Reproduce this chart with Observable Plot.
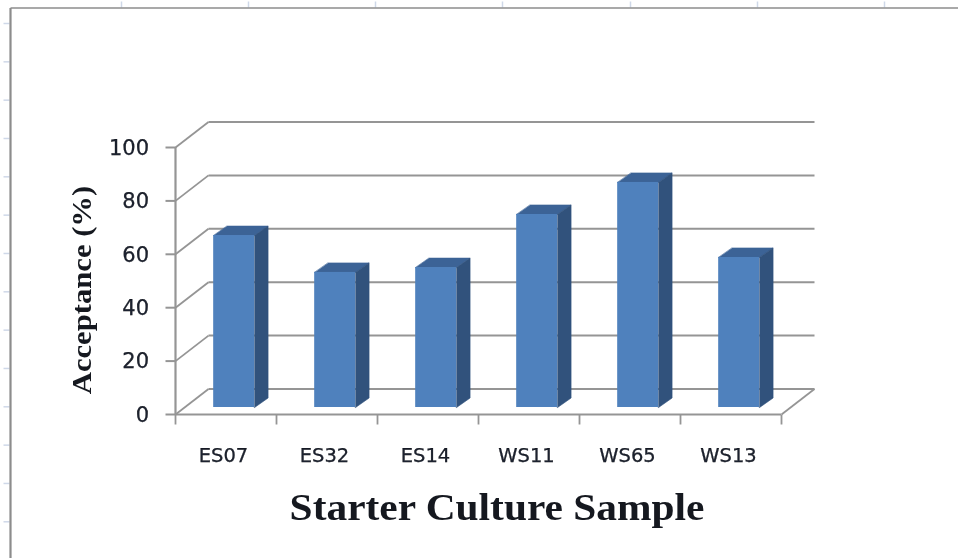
<!DOCTYPE html>
<html>
<head>
<meta charset="utf-8">
<script src="https://cdn.jsdelivr.net/npm/d3@7"></script>
<script src="https://cdn.jsdelivr.net/npm/@observablehq/plot@0.6"></script>
<style>
html,body{margin:0;padding:0;background:#fff;overflow:hidden}
svg{display:block}
g.title-y{transform-box:fill-box;transform-origin:center;transform:scaleY(1.135)}
g.title-x{transform-box:fill-box;transform-origin:center;transform:scaleX(1.09)}
.tick-text text{stroke:currentColor;stroke-width:0.25px}
</style>
</head>
<body>
<div id="chart"></div>
<script>
const samples = ["ES07", "ES32", "ES14", "WS11", "WS65", "WS13"];
const acceptance = [64.4, 50.6, 52.4, 72.3, 84.3, 56.2];
const yTicks = [0, 20, 40, 60, 80, 100];

const frontColor = "#4f81bd", sideColor = "#31527c", topColor = "#3c6396";
const gridColor = "#959595", inkColor = "#1c2230";

// Pixel placement of the plotting box: 6 category bands and a 0-100 axis.
const xRange = [175, 781], yRange = [414, 147];
const bandPx = (xRange[1] - xRange[0]) / samples.length;
const unitPx = (yRange[0] - yRange[1]) / 100;
const toX = px => (px - xRange[0]) / bandPx;
const toY = py => (yRange[0] - py) / unitPx;

// 3-D projection of the wall and the bars, in scale units.
const wallDX = 33 / bandPx, wallDY = 25.5 / unitPx;
const barLeft = 0.378, barWidth = 0.405;
const barBase = 7 / unitPx;
const barDX = 13.5 / bandPx, barDY = 9.5 / unitPx;

const rows = samples.map((name, i) => ({
  name, i, value: acceptance[i],
  x1: i + barLeft, x2: i + barLeft + barWidth,
  y1: barBase, y2: barBase + acceptance[i]
}));
const poly = (r, pts) => pts.map(([x, y]) => ({name: r.name, x, y}));
const sides = rows.flatMap(r => poly(r, [
  [r.x2, r.y1], [r.x2 + barDX, r.y1 + barDY], [r.x2 + barDX, r.y2 + barDY], [r.x2, r.y2]
]));
const tops = rows.flatMap(r => poly(r, [
  [r.x1, r.y2], [r.x2, r.y2], [r.x2 + barDX, r.y2 + barDY], [r.x1 + barDX, r.y2 + barDY]
]));

// Worksheet frame behind the chart
const sheetTop = [121, 248, 375, 502, 630, 757, 884];
const sheetLeft = d3.range(14).map(k => 23 + 38.33 * k);

const serif = "'Liberation Serif', serif";
const sans = "'DejaVu Sans', sans-serif";

const plot = Plot.plot({
  width: 958, height: 558, margin: 0,
  style: {background: "#fff", filter: "blur(0.55px)"},
  x: {type: "linear", domain: [0, samples.length], range: xRange, axis: null},
  y: {type: "linear", domain: [0, 100], range: yRange, axis: null},
  marks: [
    // worksheet frame
    Plot.link(sheetTop, {x1: d => toX(d), x2: d => toX(d), y1: toY(1), y2: toY(7), stroke: "#cfd8e8", strokeWidth: 1.5}),
    Plot.link(sheetLeft, {x1: toX(3), x2: toX(9), y1: d => toY(d), y2: d => toY(d), stroke: "#cfd8e8", strokeWidth: 1.5}),
    Plot.link([0], {x1: toX(10), x2: toX(958), y1: toY(7.5), y2: toY(7.5), stroke: "#8c8c8c", strokeWidth: 1.7}),
    Plot.link([0], {x1: toX(10), x2: toX(10), y1: toY(7.5), y2: toY(558), stroke: "#8c8c8c", strokeWidth: 2.2}),

    // walls and floor
    Plot.link(yTicks, {x1: wallDX, x2: samples.length + wallDX, y1: d => d + wallDY, y2: d => d + wallDY, stroke: gridColor, strokeWidth: 2}),
    Plot.link(yTicks, {x1: 0, x2: wallDX, y1: d => d, y2: d => d + wallDY, stroke: gridColor, strokeWidth: 1.8}),
    Plot.link([0], {x1: samples.length, x2: samples.length + wallDX, y1: 0, y2: wallDY, stroke: gridColor, strokeWidth: 1.8}),

    // axes
    Plot.ruleX([0], {y1: 0, y2: 100, stroke: gridColor, strokeWidth: 2.2}),
    Plot.ruleY([0], {x1: 0, x2: samples.length, stroke: gridColor, strokeWidth: 2.2}),
    Plot.link(yTicks, {x1: toX(165), x2: 0, y1: d => d, y2: d => d, stroke: gridColor, strokeWidth: 2}),
    Plot.link(d3.range(samples.length + 1), {x1: d => d, x2: d => d, y1: 0, y2: toY(424), stroke: gridColor, strokeWidth: 1.8}),

    // bars
    Plot.line(tops, {x: "x", y: "y", z: "name", fill: topColor, stroke: topColor, strokeWidth: 0.6, curve: "linear-closed"}),
    Plot.line(sides, {x: "x", y: "y", z: "name", fill: sideColor, stroke: sideColor, strokeWidth: 0.6, curve: "linear-closed"}),
    Plot.rect(rows, {x1: "x1", x2: "x2", y1: "y1", y2: "y2", fill: frontColor}),

    // tick labels
    Plot.text(yTicks, {x: toX(148.5), y: d => d, dy: 0.5, text: d => String(d), textAnchor: "end", fontFamily: sans, fontSize: 21, fill: inkColor, className: "tick-text"}),
    Plot.text(rows, {x: d => d.i + 0.475, y: toY(455), text: "name", fontFamily: sans, fontSize: 19.5, fill: inkColor, className: "tick-text"}),

    // axis titles
    Plot.text(["Acceptance (%)"], {x: toX(82), y: toY(290), rotate: -90, fontFamily: serif, fontWeight: "bold", fontSize: 27, fill: "#15181f", className: "title-y"}),
    Plot.text(["Starter Culture Sample"], {x: toX(497), y: toY(508), fontFamily: serif, fontWeight: "bold", fontSize: 38, fill: "#15181f", className: "title-x"})
  ]
});
document.getElementById("chart").append(plot);
</script>
</body>
</html>
